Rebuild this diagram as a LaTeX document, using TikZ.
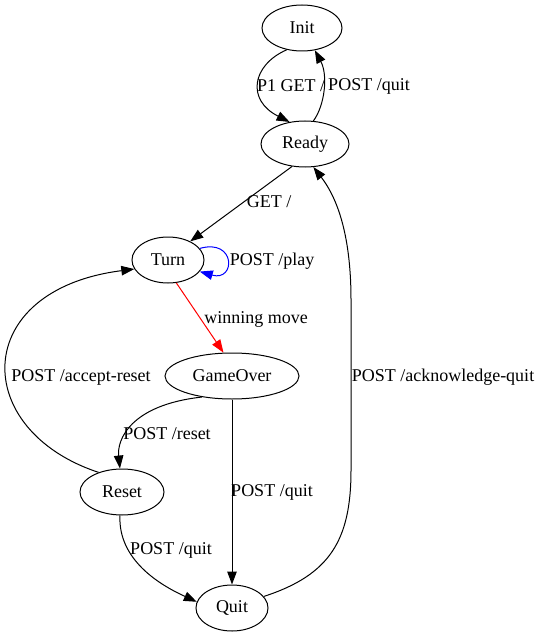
\documentclass[tikz,border=0pt]{standalone}
\usepackage{fontspec}
\setmainfont{Liberation Serif}
\usetikzlibrary{shapes.geometric,arrows.meta}
\tikzset{
  state/.style={draw, ellipse, line width=1pt, inner sep=0pt, minimum height=46pt},
  trans/.style={line width=1pt, -{Triangle[length=13pt,width=9.5pt]}},
  lbl/.style={inner sep=0pt}
}
\begin{document}
\begin{tikzpicture}[x=1pt,y=-1pt,font=\fontsize{18}{21}\selectfont]
    \useasboundingbox (0,0) rectangle (542,639);
    \node[state, minimum width=80pt] (init) at (302,28) {Init};
    \node[state, minimum width=88pt] (ready) at (305,144) {Ready};
    \node[state, minimum width=72pt] (turn) at (168,260) {Turn};
    \node[state, minimum width=134pt] (gameover) at (232,376) {GameOver};
    \node[state, minimum width=84pt] (reset) at (122,492) {Reset};
    \node[state, minimum width=72pt] (quit) at (232,608) {Quit};

    \draw[trans] (init.235) .. controls (252,65) and (246,100) .. (ready.125);
    \draw[trans] (ready.70) .. controls (325,105) and (328,75) .. (init.300);
    \draw[trans] (ready.240) -- (turn.40);
    \draw[trans, blue] (turn.20) .. controls (236,238) and (236,282) .. (turn.-20);
    \draw[trans, red] (turn.-70) -- (gameover.110);
    \draw[trans] (gameover.215) .. controls (130,405) and (117,440) .. (reset.95);
    \draw[trans] (gameover.south) -- (quit.north);
    \draw[trans] (reset.-95) .. controls (118,560) and (160,585) .. (quit.170);
    \draw[trans] (reset.140) .. controls (-30,430) and (-30,290) .. (turn.195);
    \draw[trans] (quit.20) .. controls (330,575) and (351,540) .. (351,470)
        -- (351,300) .. controls (351,230) and (335,195) .. (ready.-70);

    \node[lbl] (lp1get) at (291,86) {P1 GET /};
    \node[lbl] (lpostquitinit) at (369,86) {POST /quit};
    \node[lbl] (lget) at (269,202) {GET /};
    \node[lbl] (lplay) at (272,261) {POST /play};
    \node[lbl] (lwin) at (256,319) {winning move};
    \node[lbl] (laccept) at (81,377) {POST /accept-reset};
    \node[lbl] (lack) at (443,377) {POST /acknowledge-quit};
    \node[lbl] (lreset) at (167,434) {POST /reset};
    \node[lbl] (lquitgo) at (272,492) {POST /quit};
    \node[lbl] (lquitreset) at (171,550) {POST /quit};
\end{tikzpicture}
\end{document}
